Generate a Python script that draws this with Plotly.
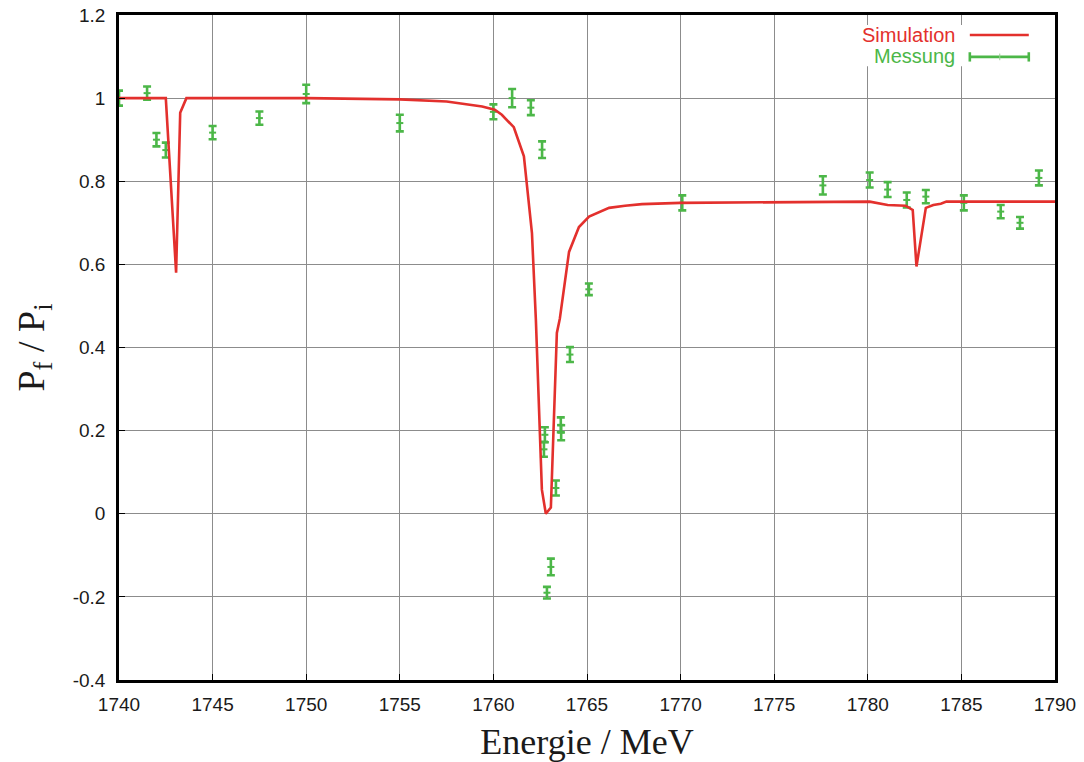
import plotly.graph_objects as go

# Simulated polarisation ratio across the resonance region
sim_energy = [1740, 1742.5, 1743.05, 1743.27, 1743.6, 1750, 1755, 1757.5, 1759.4,
              1760.07, 1760.45, 1761.09, 1761.63, 1762.06, 1762.27, 1762.59,
              1762.8, 1763.07, 1763.39, 1763.55, 1764.04, 1764.57, 1765.11,
              1766.18, 1767.03, 1767.94, 1770, 1775, 1780.1, 1781.06, 1782.02,
              1782.4, 1782.6, 1783.1, 1783.5, 1783.9, 1784.2, 1790]
sim_ratio = [1.0, 1.0, 0.58, 0.965, 1.0, 1.0, 0.997, 0.992, 0.98,
             0.972, 0.96, 0.93, 0.86, 0.675, 0.466, 0.058,
             0.0, 0.015, 0.435, 0.47, 0.63, 0.69, 0.715,
             0.736, 0.741, 0.745, 0.748, 0.75, 0.751, 0.743, 0.741,
             0.731, 0.595, 0.736, 0.743, 0.746, 0.751, 0.751]

# Measured values with their uncertainties
meas_energy = [1740, 1741.5, 1742, 1742.5, 1745, 1747.5, 1750, 1755, 1760, 1761,
               1762, 1762.6, 1762.75, 1762.7, 1762.86, 1763.07, 1763.34, 1763.6,
               1763.62, 1764.09, 1765.1, 1770.09, 1777.6, 1780.1, 1781.06, 1782.08,
               1783.1, 1785.13, 1787.1, 1788.13, 1789.14]
meas_ratio = [1.0, 1.012, 0.9, 0.875, 0.917, 0.952, 1.01, 0.94, 0.967, 1.0,
              0.977, 0.876, 0.19, 0.155, -0.19, -0.128, 0.062, 0.214,
              0.195, 0.383, 0.54, 0.748, 0.79, 0.803, 0.78, 0.755,
              0.763, 0.748, 0.727, 0.70, 0.808]
meas_err = [0.018, 0.016, 0.016, 0.018, 0.016, 0.016, 0.022, 0.02, 0.018, 0.022,
            0.018, 0.02, 0.018, 0.018, 0.014, 0.02, 0.018, 0.018,
            0.018, 0.018, 0.014, 0.018, 0.022, 0.018, 0.018, 0.018,
            0.016, 0.018, 0.016, 0.014, 0.018]

y_ticks = [-0.4, -0.2, 0, 0.2, 0.4, 0.6, 0.8, 1, 1.2]
y_tick_text = ["-0.4", "-0.2", "0", "0.2", "0.4", "0.6", "0.8", "1", "1.2"]
x_ticks = [1740, 1745, 1750, 1755, 1760, 1765, 1770, 1775, 1780, 1785, 1790]

RED = "#e3302d"
GREEN = "#4cb748"
SANS = "Liberation Sans, Arial, sans-serif"
SERIF = "Liberation Serif, Times New Roman, serif"

fig = go.Figure()

fig.add_trace(go.Scatter(
    x=meas_energy, y=meas_ratio, mode="markers", name="Messung",
    marker=dict(symbol="line-ew", size=5, color=GREEN,
                line=dict(color=GREEN, width=2)),
    error_y=dict(type="data", array=meas_err, visible=True,
                 color=GREEN, thickness=2.6, width=4),
    showlegend=False,
))

fig.add_trace(go.Scatter(
    x=sim_energy, y=sim_ratio, mode="lines", name="Simulation",
    line=dict(color=RED, width=2.6),
    showlegend=False,
))

axis_common = dict(
    showline=True, linecolor="black", linewidth=2.5, mirror=True,
    showgrid=True, gridcolor="#8c8c8c", gridwidth=1,
    ticks="inside", ticklen=6, tickcolor="black",
    tickfont=dict(family=SANS, size=19, color="#1a1a1a"),
    zeroline=False, automargin=False,
)

fig.update_xaxes(
    range=[1740, 1790], tickvals=x_ticks, ticklabelstandoff=5,
    title=dict(text="Energie / MeV", standoff=20,
               font=dict(family=SERIF, size=36, color="#1a1a1a")),
    **axis_common,
)
fig.update_yaxes(
    range=[-0.4, 1.2], tickvals=y_ticks, ticktext=y_tick_text, ticklabelstandoff=7,
    title=dict(text="P<sub>f</sub> / P<sub>i</sub>", standoff=17,
               font=dict(family=SERIF, size=38, color="#1a1a1a")),
    **axis_common,
)

# Legend in the top-right corner: opaque key box, label first, sample to its right
legend_font = dict(family=SANS, size=20)
annotations = [
    dict(text="Simulation", x=0.895, y=0.970, xref="paper", yref="paper",
         xanchor="right", yanchor="middle", showarrow=False,
         font=dict(color=RED, **legend_font)),
    dict(text="Messung", x=0.895, y=0.939, xref="paper", yref="paper",
         xanchor="right", yanchor="middle", showarrow=False,
         font=dict(color=GREEN, **legend_font)),
]
shapes = [
    dict(type="rect", xref="paper", yref="paper", x0=0.78, x1=0.984,
         y0=0.923, y1=0.985, fillcolor="white", line=dict(width=0),
         layer="above"),
    dict(type="line", xref="paper", yref="paper", x0=0.909, x1=0.972,
         y0=0.970, y1=0.970, line=dict(color=RED, width=2.6)),
    dict(type="line", xref="paper", yref="paper", x0=0.909, x1=0.972,
         y0=0.937, y1=0.937, line=dict(color=GREEN, width=2.6)),
    dict(type="line", xref="paper", yref="paper", x0=0.909, x1=0.909,
         y0=0.930, y1=0.944, line=dict(color=GREEN, width=2.6)),
    dict(type="line", xref="paper", yref="paper", x0=0.972, x1=0.972,
         y0=0.930, y1=0.944, line=dict(color=GREEN, width=2.6)),
    dict(type="line", xref="paper", yref="paper", x0=0.941, x1=0.941,
         y0=0.932, y1=0.942, line=dict(color="#9ad096", width=1)),
]

fig.update_layout(
    width=1084, height=762,
    margin=dict(l=119, r=29, t=15, b=82),
    paper_bgcolor="white", plot_bgcolor="white",
    annotations=annotations, shapes=shapes,
    showlegend=False,
)

fig.write_html("out.html")
